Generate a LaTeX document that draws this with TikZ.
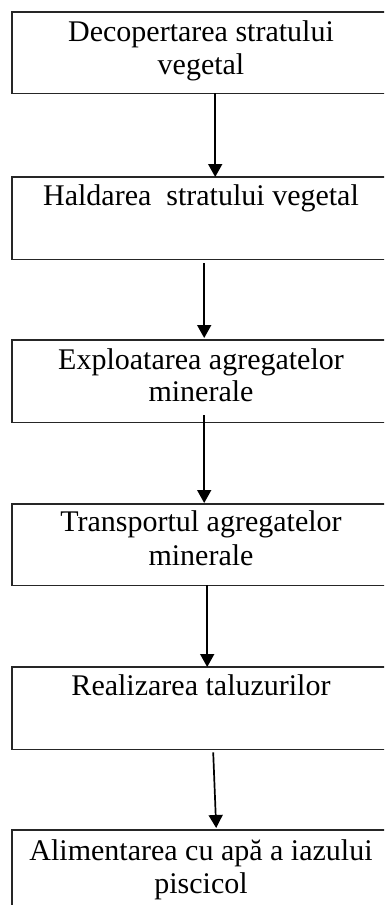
\documentclass[tikz,border=0pt]{standalone}
\usepackage{fontspec}
\setmainfont{Liberation Serif}
\usetikzlibrary{arrows.meta}
\tikzset{
  box/.style={rectangle, minimum width=400pt, inner sep=0pt, anchor=north west},
  boxline/.style={draw=black!85, line width=1.5pt},
  txt/.style={anchor=base, inner sep=0pt, font=\fontsize{30}{33}\selectfont, text=black},
  arr/.style={draw=black, line width=1.7pt, -{Triangle[width=14pt,length=13pt]}},
}
\begin{document}
\begin{tikzpicture}[x=1pt,y=-1pt]
\useasboundingbox (0,0) rectangle (384,905);
\clip (0,0) rectangle (384,905);
% boxes
\node[box, minimum height=81pt] (b1) at (12,12) {};
\node[box, minimum height=82pt] (b2) at (12,177) {};
\node[box, minimum height=82pt] (b3) at (12,340) {};
\node[box, minimum height=81pt] (b4) at (12,504) {};
\node[box, minimum height=82pt] (b5) at (12,667) {};
\node[box, minimum height=120pt] (b6) at (12,830) {};
\foreach \b in {b1,b2,b3,b4,b5,b6}
  \draw[boxline] (\b.north east) -- (\b.north west) -- (\b.south west) -- (\b.south east);
% texts
\node[txt] (t1a) at (201,41.5) {Decopertarea stratului};
\node[txt] (t1b) at (201,74) {vegetal};
\node[txt] (t2a) at (201,205) {Haldarea\ \ stratului vegetal};
\node[txt] (t3a) at (201,369) {Exploatarea agregatelor};
\node[txt] (t3b) at (201,401.5) {minerale};
\node[txt] (t4a) at (201,531.5) {Transportul agregatelor};
\node[txt] (t4b) at (201,565) {minerale};
\node[txt] (t5a) at (201,695) {Realizarea taluzurilor};
\node[txt] (t6a) at (201,860.5) {Alimentarea cu apă a iazului};
\node[txt] (t6b) at (201,893) {piscicol};
% arrows
\draw[arr] ([xshift=3pt]b1.south) -- ([xshift=3pt]b2.north);
\draw[arr] ([xshift=-8pt,yshift=-4pt]b2.south) -- ([xshift=-8pt,yshift=2pt]b3.north);
\draw[arr] ([xshift=-8pt,yshift=7pt]b3.south) -- ([xshift=-8pt,yshift=1pt]b4.north);
\draw[arr] ([xshift=-5pt]b4.south) -- ([xshift=-5pt]b5.north);
\draw[arr] ([xshift=1pt,yshift=-3pt]b5.south) -- ([xshift=4pt,yshift=2pt]b6.north);
\end{tikzpicture}
\end{document}
